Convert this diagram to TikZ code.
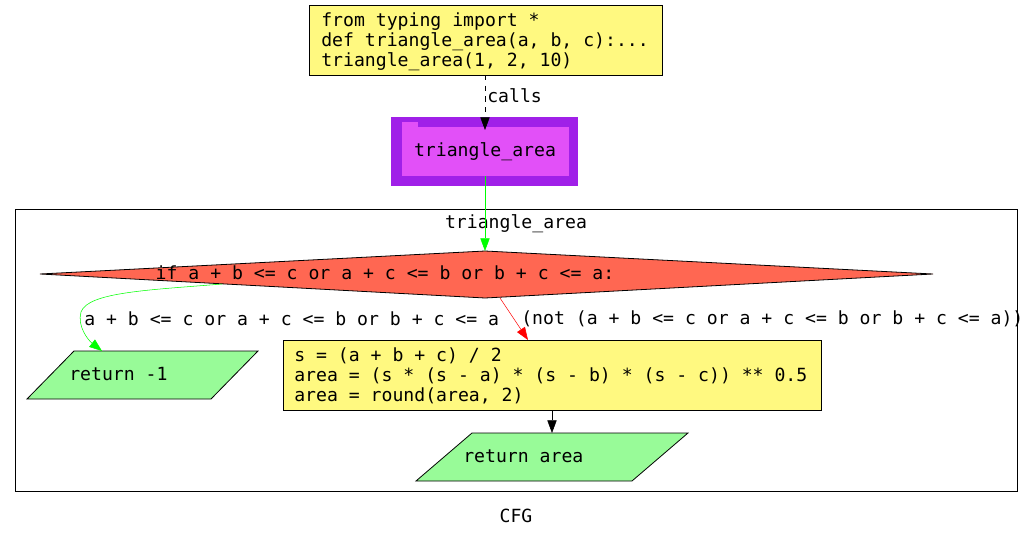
\documentclass[tikz,border=0pt]{standalone}
\usepackage{fontspec}
\setmonofont{DejaVu Sans Mono}
\usetikzlibrary{arrows.meta}
\definecolor{codeyellow}{RGB}{255,249,128}
\definecolor{purpout}{RGB}{160,32,232}
\definecolor{purpin}{RGB}{226,80,248}
\definecolor{condred}{RGB}{255,103,82}
\definecolor{retgreen}{RGB}{152,251,152}
\tikzset{
  txt/.style={font=\ttfamily\fontsize{13.6}{15}\selectfont, inner sep=0pt},
  codeblock/.style={txt, align=left, anchor=north west},
  arr/.style={-{Triangle[length=9.5pt,width=7pt]}},
  shp/.style={draw=black, line width=0.6pt},
}
\begin{document}
\begin{tikzpicture}[x=0.75pt,y=-0.75pt]
\useasboundingbox (0,0) rectangle (1033,539);
% top code box
\draw[shp, fill=codeyellow] (309,5) rectangle (662,75);
\node[codeblock] (src) at (321,12) {from typing import *\\def triangle\_area(a, b, c):...\\triangle\_area(1, 2, 10)};
\coordinate (srcb) at (485,75);
% function box
\fill[purpout] (391,117) rectangle (578,186);
\fill[purpin] (402,127) rectangle (569,176);
\fill[purpin] (402,122) rectangle (418,127);
\node[txt] (fn) at (485,152) {triangle\_area};
\coordinate (fnt) at (485,130);
\coordinate (fnb) at (485,176);
\draw[arr, dash pattern=on 4pt off 4pt] (srcb) -- (fnt);
\node[txt, anchor=west] (callslbl) at (487,96) {calls};
% cluster
\draw[line width=0.6pt] (15,209) rectangle (1017,491);
\node[txt] (clbl) at (516,224) {triangle\_area};
% condition diamond
\draw[shp, fill=condred] (40,274) -- (485,251) -- (933,274) -- (485,298) -- cycle;
\node[txt] (cond) at (385,273) {if a + b <= c or a + c <= b or b + c <= a:};
\coordinate (condt) at (485,251);
\coordinate (condl) at (222,284);
\coordinate (condr) at (500,298);
\draw[arr, draw=green] (fnb) -- (condt);
% return -1
\draw[shp, fill=retgreen] (27,399) -- (74,351) -- (258,351) -- (211,399) -- cycle;
\node[txt, anchor=west] (ret1) at (69,374) {return -1};
\coordinate (ret1t) at (102,351);
% code block 2
\draw[shp, fill=codeyellow] (283,340) rectangle (821,410);
\node[codeblock] (body) at (294,347) {s = (a + b + c) / 2\\area = (s * (s - a) * (s - b) * (s - c)) ** 0.5\\area = round(area, 2)};
\coordinate (bodyt) at (528,340);
\coordinate (bodyb) at (552,410);
% return area
\draw[shp, fill=retgreen] (416,481) -- (472,433) -- (688,433) -- (632,481) -- cycle;
\node[txt, anchor=west] (ret2) at (463,456) {return area};
\coordinate (ret2t) at (552,433);
% edges
\draw[arr, draw=green] (condl) .. controls (150,290) and (88,292) .. (81,312) .. controls (77,326) and (88,340) .. (ret1t);
\node[txt, anchor=west] (tlbl) at (84,319) {a + b <= c or a + c <= b or b + c <= a};
\draw[arr, draw=red] (condr) -- (bodyt);
\node[txt, anchor=west] (flbl) at (521,319) {(not (a + b <= c or a + c <= b or b + c <= a))};
\draw[arr] (bodyb) -- (ret2t);
\node[txt] (cfg) at (516,516) {CFG};
\end{tikzpicture}
\end{document}
